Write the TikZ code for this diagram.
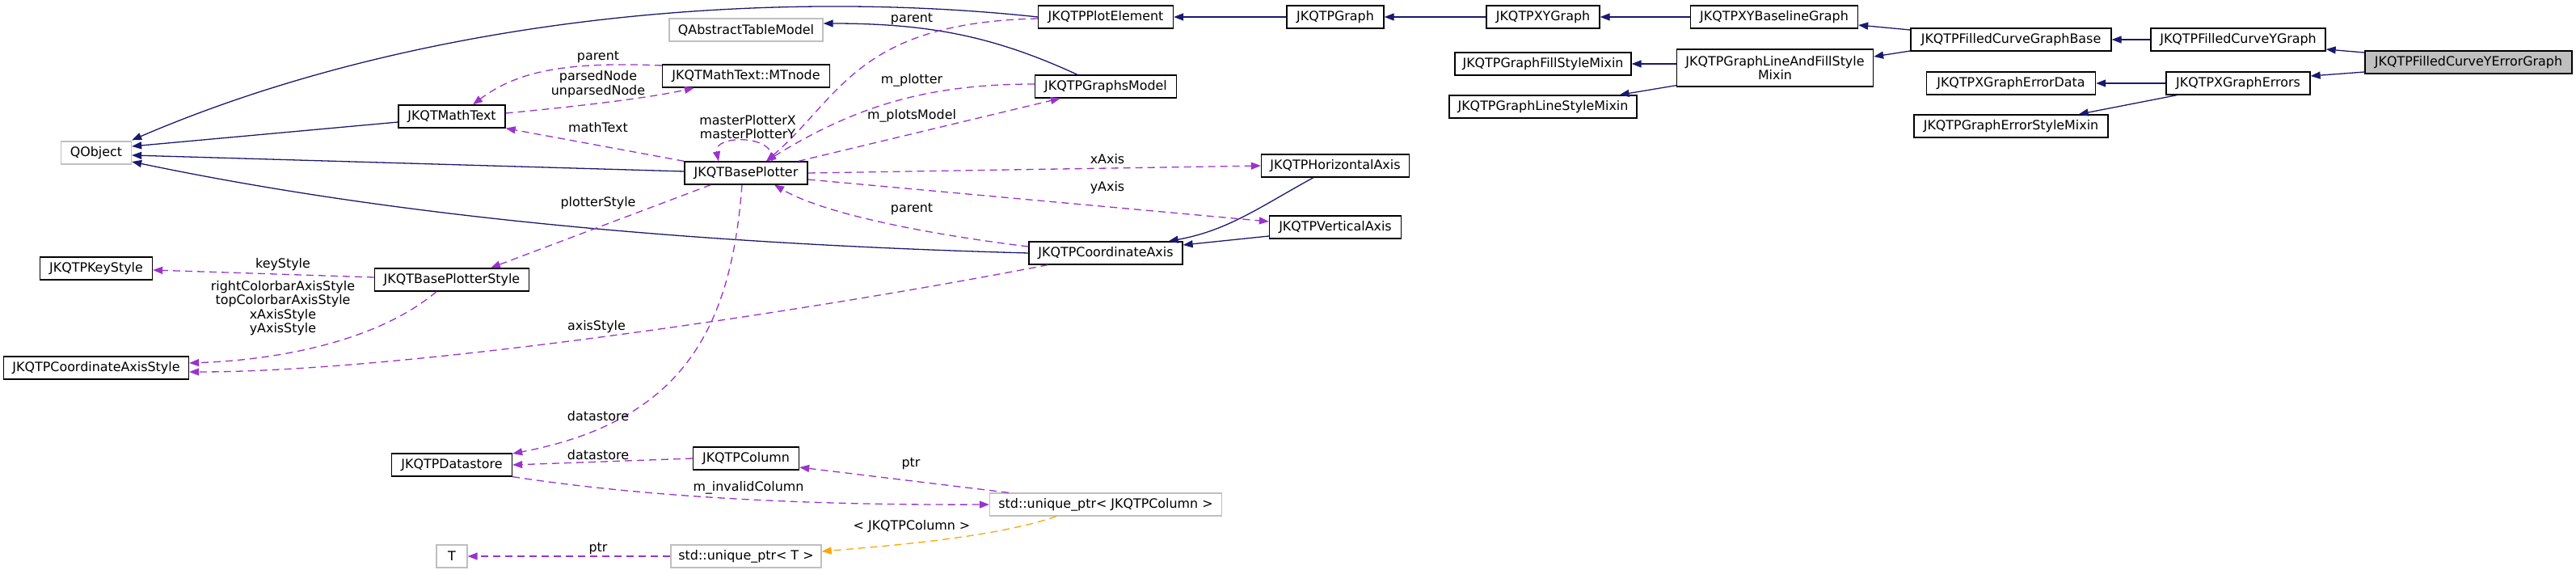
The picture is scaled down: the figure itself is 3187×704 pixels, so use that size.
\documentclass[tikz,border=0pt]{standalone}
\usepackage{fontspec}
\setmainfont{DejaVu Sans}
\usetikzlibrary{arrows.meta,calc}
\definecolor{inhblue}{HTML}{191970}
\definecolor{usepurple}{HTML}{9A32CD}
\definecolor{tplorange}{HTML}{FFA500}
\definecolor{extgray}{HTML}{BFBFBF}

\begin{document}
\begin{tikzpicture}[x=1pt,y=-1pt,>={Triangle[length=12pt,width=9pt]},font=\fontsize{15.9}{17.3}\selectfont]
  \tikzset{cls/.style={draw=black,line width=1.3pt,inner sep=0pt,minimum height=28pt,fill=white,align=center},
    ext/.style={cls,draw=extgray},
    inh/.style={->,draw=inhblue,line width=1.3pt},
    use/.style={->,draw=usepurple,line width=1.3pt,dash pattern=on 9pt off 6pt},
    tpl/.style={use,draw=tplorange},
    lbl/.style={align=center,inner sep=0pt}}
  \useasboundingbox (0,0) rectangle (3187,704);
  % classes
  \node[ext,minimum width=87pt] (qobject) at (119,189) {QObject};
  \node[cls,minimum width=139pt] (keystyle) at (119,332) {JKQTPKeyStyle};
  \node[cls,minimum width=229pt] (axisstyle) at (119,455) {JKQTPCoordinateAxisStyle};
  \node[cls,minimum width=132pt] (mathtext) at (559,144) {JKQTMathText};
  \node[cls,minimum width=191pt] (bpstyle) at (559,346) {JKQTBasePlotterStyle};
  \node[cls,minimum width=149pt] (datastore) at (559,575) {JKQTPDatastore};
  \node[ext,minimum width=38pt] (tnode) at (559,688) {T};
  \node[ext,minimum width=190pt] (qatm) at (923,37) {QAbstractTableModel};
  \node[cls,minimum width=207pt] (mtnode) at (923,94) {JKQTMathText::MTnode};
  \node[cls,minimum width=152pt] (baseplotter) at (923,214) {JKQTBasePlotter};
  \node[cls,minimum width=131pt] (column) at (923,567) {JKQTPColumn};
  \node[ext,minimum width=186pt] (uptrT) at (923,688) {std::unique\_ptr< T >};
  \node[cls,minimum width=167pt] (plotelem) at (1368,21) {JKQTPPlotElement};
  \node[cls,minimum width=175pt] (graphsmodel) at (1368,107) {JKQTPGraphsModel};
  \node[cls,minimum width=190pt] (coordaxis) at (1368,313) {JKQTPCoordinateAxis};
  \node[ext,minimum width=287pt] (uptrcol) at (1368,624) {std::unique\_ptr< JKQTPColumn >};
  \node[cls,minimum width=183pt] (haxis) at (1652,205) {JKQTPHorizontalAxis};
  \node[cls,minimum width=163pt] (vaxis) at (1652,281) {JKQTPVerticalAxis};
  \node[cls,minimum width=120pt] (graph) at (1652,21) {JKQTPGraph};
  \node[cls,minimum width=140pt] (xygraph) at (1909,21) {JKQTPXYGraph};
  \node[cls,minimum width=218pt] (fillmixin) at (1909,79) {JKQTPGraphFillStyleMixin};
  \node[cls,minimum width=232pt] (linemixin) at (1909,132) {JKQTPGraphLineStyleMixin};
  \node[cls,minimum width=207pt] (baseline) at (2195,21) {JKQTPXYBaselineGraph};
  \node[cls,minimum width=243pt,minimum height=46pt] (lafmixin) at (2196,84) {JKQTPGraphLineAndFillStyle\\Mixin};
  \node[cls,minimum width=248pt] (fcbase) at (2488,49) {JKQTPFilledCurveGraphBase};
  \node[cls,minimum width=209pt] (errdata) at (2488,103) {JKQTPXGraphErrorData};
  \node[cls,minimum width=240pt] (errstyle) at (2488,156) {JKQTPGraphErrorStyleMixin};
  \node[cls,minimum width=216pt] (fcy) at (2769,49) {JKQTPFilledCurveYGraph};
  \node[cls,minimum width=178pt] (xerrors) at (2769,103) {JKQTPXGraphErrors};
  \node[cls,minimum width=256pt,fill=extgray] (main) at (3054,77) {JKQTPFilledCurveYErrorGraph};
  % inheritance
  \draw[inh] (plotelem.west) .. controls (950,-15) and (520,20) .. ($(qobject.north east)+(0,-1)$);
  \draw[inh] ($(mathtext.west)+(0,7)$) -- ($(qobject.east)+(0,-8)$);
  \draw[inh] ($(baseplotter.west)+(0,-2)$) -- ($(qobject.east)+(0,3)$);
  \draw[inh] (coordaxis.west) .. controls (800,300) and (450,260) .. ($(qobject.east)+(0,11)$);
  \draw[inh] ($(graphsmodel.north)+(-35,0)$) .. controls (1230,45) and (1150,29) .. ($(qatm.east)+(0,-8)$);
  \draw[inh] (graph.west) -- (plotelem.east);
  \draw[inh] (xygraph.west) -- (graph.east);
  \draw[inh] (baseline.west) -- (xygraph.east);
  \draw[inh] ($(fcbase.west)+(0,-12)$) -- ($(baseline.east)+(0,10)$);
  \draw[inh] ($(fcbase.west)+(0,14)$) -- ($(lafmixin.east)+(0,-14)$);
  \draw[inh] (lafmixin.west |- fillmixin.east) -- (fillmixin.east);
  \draw[inh] ($(lafmixin.south west)+(0,-2)$) -- ($(linemixin.north east)+(-22,0)$);
  \draw[inh] (fcy.west) -- (fcbase.east);
  \draw[inh] ($(main.west)+(0,-12)$) -- ($(fcy.east)+(0,12)$);
  \draw[inh] ($(main.west)+(0,12)$) -- ($(xerrors.east)+(0,-9)$);
  \draw[inh] (xerrors.west) -- (errdata.east);
  \draw[inh] ($(xerrors.south west)+(14,0)$) -- ($(errstyle.north east)+(-37,0)$);
  \draw[inh] ($(haxis.south)+(-27,0)$) .. controls (1560,255) and (1520,285) .. ($(coordaxis.north east)+(-18,0)$);
  \draw[inh] ($(vaxis.west)+(0,11)$) -- ($(coordaxis.east)+(0,-10)$);
  % usage
  \draw[use] ($(mtnode.west)+(0,-13)$) .. controls (700,76) and (640,88) .. ($(mathtext.north)+(26,0)$);
  \draw[use] ($(mathtext.east)+(0,-4)$) .. controls (700,133) and (800,122) .. ($(mtnode.south west)+(40,0)$);
  \draw[use] (baseplotter.north west) -- (mathtext.south east);
  \draw[use] ($(baseplotter.north)+(32,0)$) .. controls (962,166) and (882,166) .. ($(baseplotter.north)+(-34,0)$);
  \draw[use] ($(plotelem.west)+(0,2)$) .. controls (1060,28) and (1040,120) .. ($(baseplotter.north)+(25,0)$);
  \draw[use] ($(graphsmodel.west)+(0,-3)$) .. controls (1150,104) and (1060,130) .. ($(baseplotter.north)+(25,0)$);
  \draw[use] ($(baseplotter.north east)+(-12,0)$) -- ($(graphsmodel.south west)+(32,0)$);
  \draw[use] (baseplotter.east) -- (haxis.west);
  \draw[use] ($(baseplotter.east)+(0,8)$) -- ($(vaxis.west)+(0,-7)$);
  \draw[use] ($(coordaxis.west)+(0,-8)$) .. controls (1150,290) and (1020,265) .. ($(baseplotter.south)+(35,0)$);
  \draw[use] ($(baseplotter.south west)+(33,0)$) -- ($(bpstyle.north)+(48,0)$);
  \draw[use] ($(bpstyle.west)+(0,-3)$) -- ($(keystyle.east)+(0,2)$);
  \draw[use] ($(bpstyle.south)+(-19,0)$) .. controls (470,420) and (350,445) .. ($(axisstyle.east)+(0,-6)$);
  \draw[use] ($(coordaxis.south west)+(24,0)$) .. controls (1000,385) and (500,460) .. ($(axisstyle.east)+(0,5)$);
  \draw[use] ($(baseplotter.south)+(-5,0)$) .. controls (905,400) and (850,520) .. ($(datastore.east)+(0,-14)$);
  \draw[use] (column.west) -- (datastore.east);
  \draw[use] (datastore.south east) .. controls (800,615) and (1000,625) .. (uptrcol.west);
  \draw[use] ($(uptrcol.north west)+(24,0)$) -- ($(column.east)+(0,11)$);
  \draw[tpl] ($(uptrcol.south west)+(83,0)$) .. controls (1230,665) and (1100,675) .. ($(uptrT.east)+(0,-6)$);
  \draw[use] (uptrT.west) -- (tnode.east);
  % edge labels
  \node[lbl] (lparentmt) at (740,71) {parent};
  \node[lbl] (lparsed) at (740,104) {parsedNode\\unparsedNode};
  \node[lbl] (lmathtext) at (740,158) {mathText};
  \node[lbl] (lmaster) at (925,157) {masterPlotterX\\masterPlotterY};
  \node[lbl] (lparentpe) at (1128,24) {parent};
  \node[lbl] (lmplotter) at (1128,99) {m\_plotter};
  \node[lbl] (lplotsmodel) at (1128,143) {m\_plotsModel};
  \node[lbl] (lxaxis) at (1370,197) {xAxis};
  \node[lbl] (lyaxis) at (1370,232) {yAxis};
  \node[lbl] (lparentca) at (1128,259) {parent};
  \node[lbl] (lplotterstyle) at (740,251) {plotterStyle};
  \node[lbl] (lkeystyle) at (350,327) {keyStyle};
  \node[lbl] (laxisstyles) at (350,381) {rightColorbarAxisStyle\\topColorbarAxisStyle\\xAxisStyle\\yAxisStyle};
  \node[lbl] (laxisstyle) at (738,404) {axisStyle};
  \node[lbl] (ldatastorebp) at (740,515) {datastore};
  \node[lbl] (ldatastorecol) at (740,563) {datastore};
  \node[lbl] (linvalid) at (926,603) {m\_invalidColumn};
  \node[lbl] (lptrcol) at (1127,574) {ptr};
  \node[lbl] (ltemplate) at (1128,651) {< JKQTPColumn >};
  \node[lbl] (lptrT) at (740,679) {ptr};
\end{tikzpicture}
\end{document}
